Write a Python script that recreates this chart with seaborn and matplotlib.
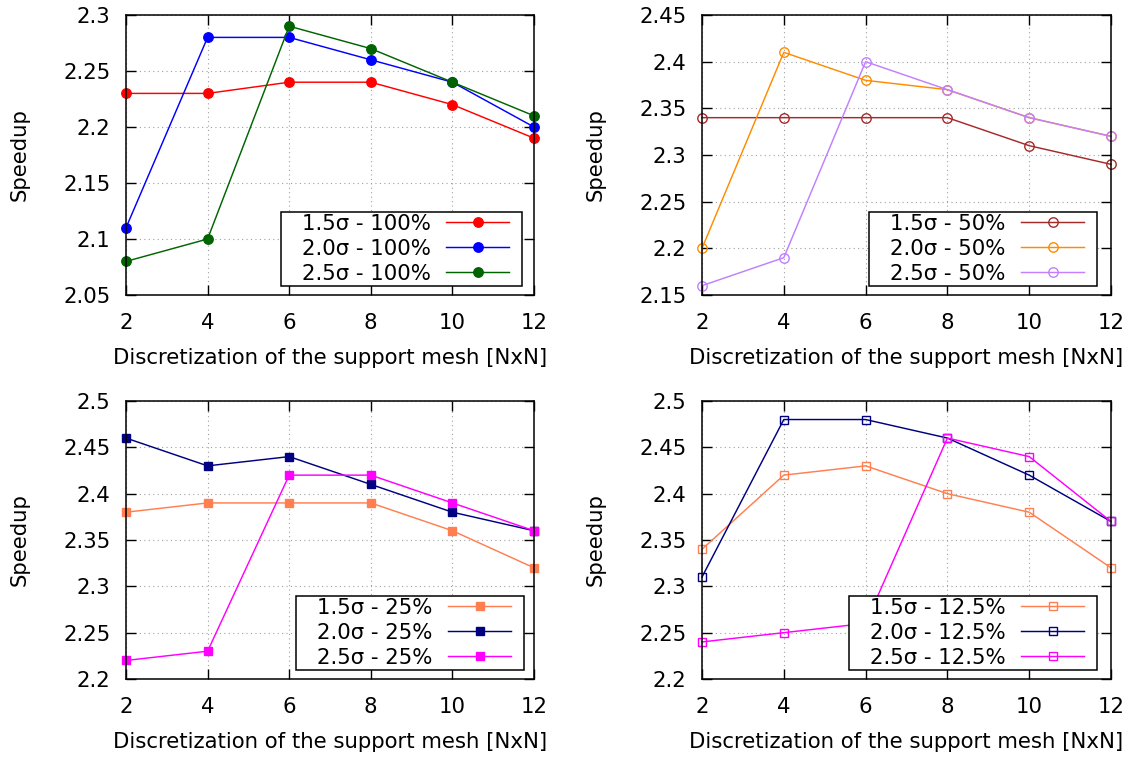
# Speedup vs. support-mesh discretization, four panels (gnuplot look)
import numpy as np
import pandas as pd
import matplotlib
matplotlib.use('Agg')
import matplotlib.pyplot as plt
import matplotlib.ticker as mticker
from matplotlib.patches import Rectangle
from matplotlib.transforms import IdentityTransform
import seaborn as sns

FS = 15.3
plt.rcParams['font.family'] = ['DejaVu Sans']
plt.rcParams['font.size'] = FS

# ---------------------------
# data
# ---------------------------
mesh = [2, 4, 6, 8, 10, 12]
sigmas = ['1.5σ', '2.0σ', '2.5σ']

s100 = [[2.23, 2.23, 2.24, 2.24, 2.22, 2.19],
        [2.11, 2.28, 2.28, 2.26, 2.24, 2.20],
        [2.08, 2.10, 2.29, 2.27, 2.24, 2.21]]
s50 = [[2.34, 2.34, 2.34, 2.34, 2.31, 2.29],
       [2.20, 2.41, 2.38, 2.37, 2.34, 2.32],
       [2.16, 2.19, 2.40, 2.37, 2.34, 2.32]]
s25 = [[2.38, 2.39, 2.39, 2.39, 2.36, 2.32],
       [2.46, 2.43, 2.44, 2.41, 2.38, 2.36],
       [2.22, 2.23, 2.42, 2.42, 2.39, 2.36]]
s125 = [[2.34, 2.42, 2.43, 2.40, 2.38, 2.32],
        [2.31, 2.48, 2.48, 2.46, 2.42, 2.37],
        [2.24, 2.25, 2.26, 2.46, 2.44, 2.37]]

panels = [
    # values, percent, colors, marker, filled, ylim, axes rect (px), legend anchor
    (s100, '100%', ['#ff0000', '#0000ff', '#006400'], 'o', True, (2.05, 2.30),
     [126, 15, 534, 295], (0.939, 0.040)),
    (s50, '50%', ['#a52a2a', '#ff8c00', '#c080ff'], 'o', False, (2.15, 2.45),
     [702, 15, 1111, 295], (0.934, 0.040)),
    (s25, '25%', ['#ff7f50', '#000080', '#ff00ff'], 's', True, (2.20, 2.50),
     [126, 401, 534, 679], (0.944, 0.040)),
    (s125, '12.5%', ['#ff7f50', '#000080', '#ff00ff'], 's', False, (2.20, 2.50),
     [702, 401, 1111, 679], (0.934, 0.040)),
]

W, H = 1132, 757
fig = plt.figure(figsize=(W / 100, H / 100), dpi=100)
legends = []

for vals, pct, colors, mk, filled, ylim, rect, anchor in panels:
    x0, y0, x1, y1 = rect
    ax = fig.add_axes([x0 / W, 1 - y1 / H, (x1 - x0) / W, (y1 - y0) / H])

    for sig, v, c in zip(sigmas, vals, colors):
        df = pd.DataFrame({'mesh': mesh, 'speedup': v})
        sns.lineplot(data=df, x='mesh', y='speedup', ax=ax, color=c,
                     label=f'{sig} - {pct}', marker=mk,
                     markersize=6.8 if mk == 'o' else 6.2,
                     markerfacecolor=c if filled else 'none',
                     markeredgecolor=c, markeredgewidth=1.0,
                     linewidth=1.05, clip_on=False)

    ax.set_xlim(2, 12)
    ax.set_ylim(*ylim)
    ax.set_xticks(mesh)
    ax.set_yticks(np.arange(ylim[0], ylim[1] + 1e-9, 0.05))
    ax.yaxis.set_major_formatter(mticker.FuncFormatter(lambda y, p: '%g' % round(y, 3)))
    ax.tick_params(direction='in', length=7, width=1.0, top=True, right=True,
                   labelsize=FS, color='black')
    ax.tick_params(axis='x', pad=13)
    ax.tick_params(axis='y', pad=11)
    ax.grid(True, linestyle=(0, (1, 3)), color='#a0a0a0', linewidth=0.8)
    for s in ax.spines.values():
        s.set_linewidth(1.1)
        s.set_color('black')

    ax.set_xlabel('Discretization of the support mesh [NxN]', fontsize=FS)
    ax.set_ylabel('Speedup', fontsize=FS)
    ax.xaxis.set_label_coords(0.5, -0.19)
    ax.yaxis.set_label_coords(-0.235, 0.5)

    # gnuplot-style key: text right-justified, sample on the right
    leg = ax.legend(loc='lower right', bbox_to_anchor=anchor, markerfirst=False,
                    frameon=False, borderaxespad=0, borderpad=0,
                    handlelength=2.95, labelspacing=0.24, handletextpad=0.75,
                    fontsize=FS)
    leg.set_zorder(5)
    legends.append((ax, leg))

# opaque boxed key (wider left margin, as gnuplot draws it)
fig.canvas.draw()
for ax, leg in legends:
    bb = leg.get_window_extent()
    box = Rectangle((bb.x0 - 21, bb.y0 - 2), bb.width + 21 + 13, bb.height + 4,
                    transform=IdentityTransform(), facecolor='white',
                    edgecolor='black', linewidth=1.1, zorder=4.9, clip_on=False)
    ax.add_patch(box)

plt.savefig('out.png', dpi=100)
